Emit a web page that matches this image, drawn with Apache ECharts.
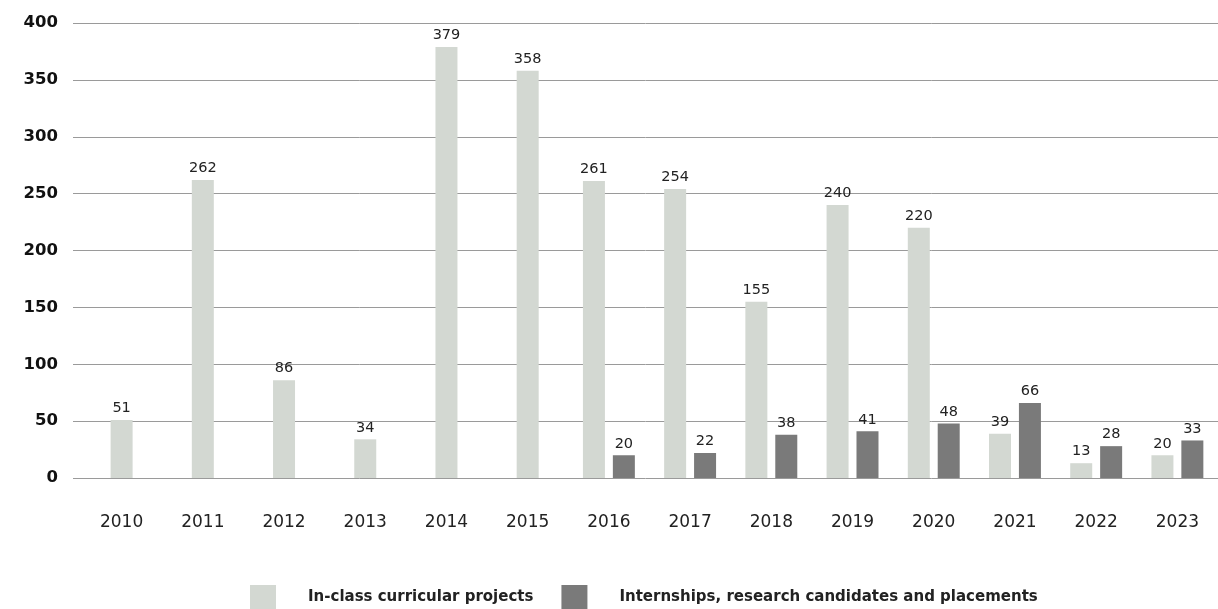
<!DOCTYPE html>
<html>
<head>
<meta charset="utf-8">
<script src="https://cdn.jsdelivr.net/npm/echarts@6/dist/echarts.min.js"></script>
<style>
  html, body { margin: 0; padding: 0; background: #fff; }
  #chart { width: 1218px; height: 609px; }
</style>
</head>
<body>
<div id="chart"></div>
<script>
// Years on the category axis
const years = ['2010','2011','2012','2013','2014','2015','2016','2017','2018','2019','2020','2021','2022','2023'];

// In-class curricular projects per year
const curricular = [51, 262, 86, 34, 379, 358, 261, 254, 155, 240, 220, 39, 13, 20];

// Internships, research candidates and placements (none recorded before 2016)
const internships = [null, null, null, null, null, null, 20, 22, 38, 41, 48, 66, 28, 33];

// Value axis ticks
const yMin = 0, yMax = 400, yStep = 50;

const NAME_A = 'In-class curricular projects';
const NAME_B = 'Internships, research candidates and placements';
const COLOR_A = '#d3d8d2';
const COLOR_B = '#7a7a7a';
const FONT = 'DejaVu Sans';

// Years with only curricular projects get a single centred bar;
// years with both series get a side-by-side pair.
const singleYears = curricular.map((v, i) => internships[i] == null ? v : null);
const pairYears = curricular.map((v, i) => internships[i] == null ? null : v);

const labelStyle = {
  show: true, position: 'top', distance: 4,
  color: '#222', fontSize: 14.5, fontFamily: FONT
};

const chart = echarts.init(document.getElementById('chart'));
chart.setOption({
  animation: false,
  textStyle: { fontFamily: FONT },
  grid: [
    // grid 0: value axis labels and horizontal rules
    { left: 73, right: 0, top: 23, bottom: 131, containLabel: false },
    // grid 1: the bars and year labels
    { left: 81, right: -8, top: 23, bottom: 131, containLabel: false }
  ],
  legend: {
    left: 245, bottom: -5,
    itemWidth: 26, itemHeight: 24, itemGap: 28,
    icon: 'rect',
    textStyle: { fontSize: 15, fontWeight: 'bold', color: '#222', fontFamily: FONT, padding: [2, 0, 0, 27] },
    data: [NAME_A, NAME_B]
  },
  xAxis: [
    { gridIndex: 0, type: 'category', data: years, show: false },
    {
      gridIndex: 1, type: 'category', data: years,
      axisLine: { show: false }, axisTick: { show: false },
      axisLabel: { color: '#222', fontSize: 17, margin: 36, fontFamily: FONT }
    },
    { gridIndex: 1, type: 'category', data: years, show: false }
  ],
  yAxis: [
    {
      gridIndex: 0, type: 'value', min: yMin, max: yMax, interval: yStep,
      axisLine: { show: false }, axisTick: { show: false },
      axisLabel: { color: '#111', fontSize: 16.5, fontWeight: 'bold', margin: 15, fontFamily: FONT },
      splitLine: { lineStyle: { color: '#9a9a9a', width: 1 } }
    },
    {
      gridIndex: 1, type: 'value', min: yMin, max: yMax, interval: yStep,
      show: false, splitLine: { show: false }
    }
  ],
  series: [
    {
      name: NAME_A, type: 'bar', xAxisIndex: 1, yAxisIndex: 1,
      data: pairYears, barWidth: 22, barGap: '36%',
      itemStyle: { color: COLOR_A }, label: labelStyle
    },
    {
      name: NAME_B, type: 'bar', xAxisIndex: 1, yAxisIndex: 1,
      data: internships, barWidth: 22, barGap: '36%',
      itemStyle: { color: COLOR_B }, label: labelStyle
    },
    {
      name: NAME_A, type: 'bar', xAxisIndex: 2, yAxisIndex: 1,
      data: singleYears, barWidth: 22,
      itemStyle: { color: COLOR_A }, label: labelStyle
    }
  ]
});
</script>
</body>
</html>
